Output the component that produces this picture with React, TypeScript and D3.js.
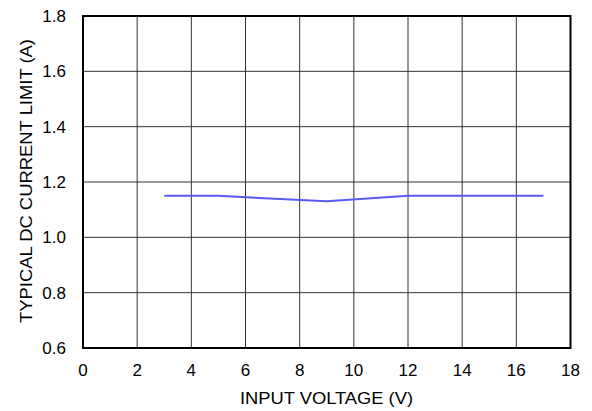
import React from "react";
import * as d3 from "d3";

const xValues = [3, 5, 9, 12, 17];
const yValues = [1.15, 1.15, 1.13, 1.15, 1.15];
const xTicks = [0, 2, 4, 6, 8, 10, 12, 14, 16, 18];
const yTicks = [0.6, 0.8, 1.0, 1.2, 1.4, 1.6, 1.8];
const xTitle = "INPUT VOLTAGE (V)";
const yTitle = "TYPICAL DC CURRENT LIMIT (A)";

export default function App() {
  const W = 592, H = 411;
  const L = 83, R = 570.5, T = 16, B = 348;
  const x = d3.scaleLinear().domain([0, 18]).range([L, R]);
  const y = d3.scaleLinear().domain([0.6, 1.8]).range([B, T]);
  const line = d3.line<number>().x((_, i) => x(xValues[i])).y((d) => y(d));
  const font = "'Liberation Sans', Arial, sans-serif";
  return (
    <svg width={W} height={H} style={{ position: "absolute", left: 0, top: 0, background: "#fff" }} fontFamily={font}>
      {xTicks.slice(1, -1).map((t) => (
        <line key={"gx" + t} x1={x(t)} x2={x(t)} y1={T} y2={B} stroke="#333" strokeWidth={1} />
      ))}
      {yTicks.slice(1, -1).map((t) => (
        <line key={"gy" + t} x1={L} x2={R} y1={y(t)} y2={y(t)} stroke="#333" strokeWidth={1} />
      ))}
      <path d={line(yValues) || ""} fill="none" stroke="#5a5af5" strokeWidth={2} />
      <rect x={L} y={T} width={R - L} height={B - T} fill="none" stroke="#000" strokeWidth={2} />
      {xTicks.map((t) => (
        <text key={"tx" + t} x={x(t)} y={B + 28} textAnchor="middle" fontSize={17} fill="#000">{t}</text>
      ))}
      {yTicks.map((t) => (
        <text key={"ty" + t} x={66} y={y(t) + 6} textAnchor="end" fontSize={17} fill="#000">{t.toFixed(1)}</text>
      ))}
      <text x={240} y={403.5} fontSize={17} fill="#000" textLength={173} lengthAdjust="spacingAndGlyphs">{xTitle}</text>
      <text transform={`translate(32,323) rotate(-90)`} fontSize={17} fill="#000" textLength={284} lengthAdjust="spacingAndGlyphs">{yTitle}</text>
    </svg>
  );
}
